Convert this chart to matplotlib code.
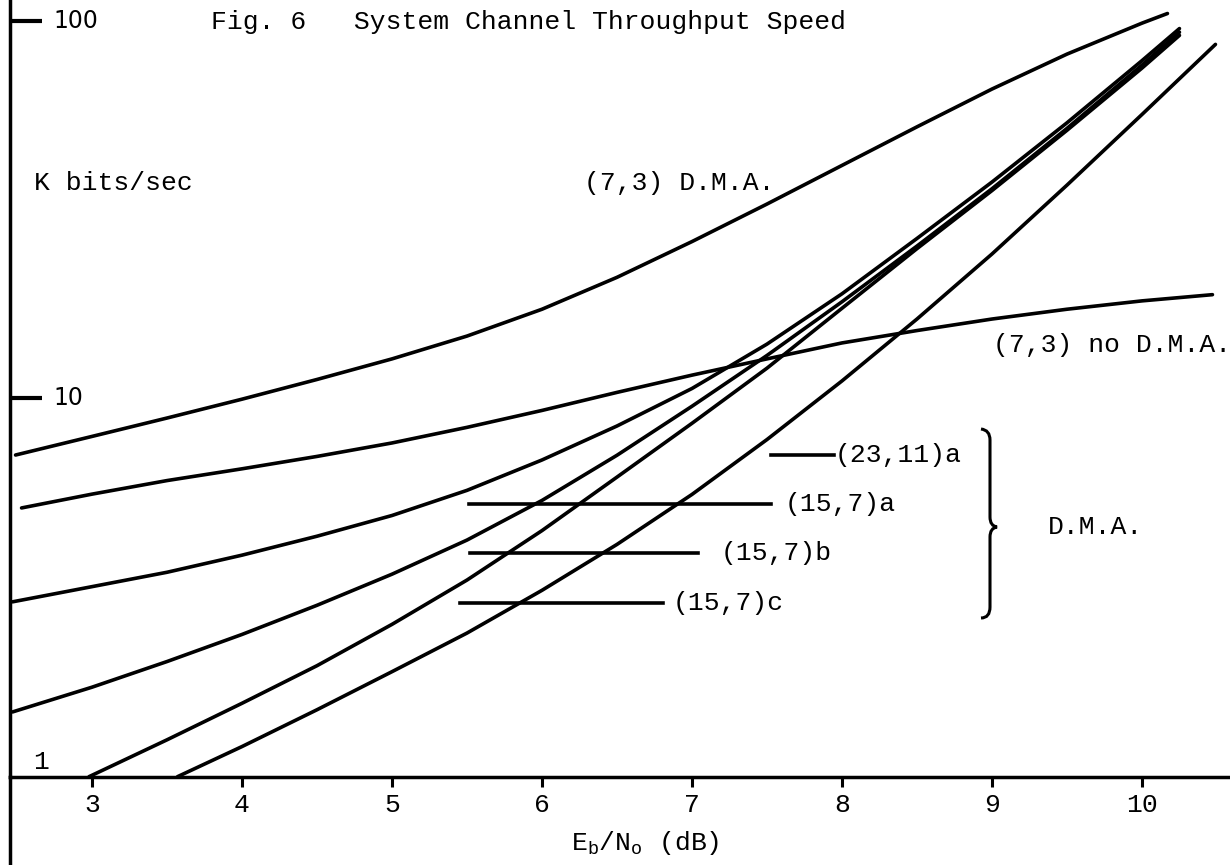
import matplotlib
matplotlib.use("Agg")
import matplotlib.pyplot as plt
from matplotlib.lines import Line2D
from matplotlib.path import Path
from matplotlib.patches import PathPatch
from matplotlib.ticker import NullLocator

plt.rcParams['font.family'] = ['Liberation Mono', 'DejaVu Sans']
plt.rcParams['mathtext.fontset'] = 'custom'
plt.rcParams['mathtext.rm'] = 'Liberation Mono'
plt.rcParams['mathtext.it'] = 'Liberation Mono'

# Eb/No (dB) against throughput (K bits/sec)
x_73_dma = [2.49, 3.0, 3.5, 4.0, 4.5, 5.0, 5.5, 6.0, 6.5, 7.0, 7.5, 8.0, 8.5, 9.0, 9.5, 10.0, 10.17]
y_73_dma = [7.06, 7.91, 8.85, 9.93, 11.2, 12.7, 14.6, 17.2, 20.9, 26.0, 32.7, 41.4, 52.4, 66.0, 81.7, 98.7, 104.7]

x_73_nodma = [2.53, 3.0, 3.5, 4.0, 4.5, 5.0, 5.5, 6.0, 6.5, 7.0, 7.5, 8.0, 8.5, 9.0, 9.5, 10.0, 10.47]
y_73_nodma = [5.11, 5.56, 6.04, 6.49, 7.00, 7.60, 8.36, 9.27, 10.35, 11.5, 12.7, 14.0, 15.1, 16.2, 17.2, 18.1, 18.8]

x_23_11a = [2.47, 3.0, 3.5, 4.0, 4.5, 5.0, 5.5, 6.0, 6.5, 7.0, 7.5, 8.0, 8.5, 9.0, 9.5, 10.0, 10.25]
y_23_11a = [2.88, 3.16, 3.45, 3.83, 4.30, 4.88, 5.69, 6.85, 8.43, 10.6, 13.9, 18.9, 26.5, 37.4, 53.7, 78.5, 95.5]

x_15_7a = [2.47, 3.0, 3.5, 4.0, 4.5, 5.0, 5.5, 6.0, 6.5, 7.0, 7.5, 8.0, 8.5, 9.0, 9.5, 10.0, 10.25]
y_15_7a = [1.47, 1.71, 2.00, 2.36, 2.82, 3.41, 4.20, 5.35, 7.05, 9.51, 12.97, 18.0, 25.3, 35.9, 51.9, 76.4, 93.4]

x_15_7b = [2.98, 3.5, 4.0, 4.5, 5.0, 5.5, 6.0, 6.5, 7.0, 7.5, 8.0, 8.5, 9.0, 9.5, 10.0, 10.25]
y_15_7b = [0.99, 1.24, 1.55, 1.95, 2.51, 3.29, 4.45, 6.17, 8.57, 12.0, 17.3, 24.9, 35.5, 51.3, 75.0, 91.6]

x_15_7c = [3.57, 4.0, 4.5, 5.0, 5.5, 6.0, 6.5, 7.0, 7.5, 8.0, 8.5, 9.0, 9.5, 10.0, 10.49]
y_15_7c = [0.99, 1.19, 1.49, 1.88, 2.38, 3.09, 4.09, 5.55, 7.76, 11.1, 16.2, 24.1, 36.7, 56.5, 86.7]

code_labels = ['(23,11)a', '(15,7)a', '(15,7)b', '(15,7)c']
x_ticks = [3, 4, 5, 6, 7, 8, 9, 10]
y_ticks = [10, 100]

W, H = 1230, 865


def fpx(x, y):
    # pixel position on the page -> figure fraction
    return x / W, 1 - y / H


fig = plt.figure(figsize=(12.3, 8.65), dpi=100)
ax = fig.add_axes([10 / W, 88 / H, 1220 / W, 777 / H])
ax.set_yscale('log')
ax.set_xlim(2.453, 10.587)
ax.set_ylim(0.988, 113.7)

lw = 2.6
for xs, ys in [(x_73_dma, y_73_dma), (x_73_nodma, y_73_nodma),
               (x_23_11a, y_23_11a), (x_15_7a, y_15_7a),
               (x_15_7b, y_15_7b), (x_15_7c, y_15_7c)]:
    ax.plot(xs, ys, color='black', lw=lw, solid_capstyle='round',
            solid_joinstyle='round', clip_on=False)

# leader lines for the code labels: (y, line start, line end, text x)
leaders = [(7.06, 7.53, 7.95, 7.95), (5.25, 5.51, 7.53, 7.62),
           (3.88, 5.52, 7.04, 7.19), (2.86, 5.45, 6.81, 6.87)]
for lab, (yl, x0, x1, xt) in zip(code_labels, leaders):
    ax.plot([x0, x1], [yl, yl], color='black', lw=lw)
    ax.text(xt, yl, lab, fontsize=19, va='center', ha='left')

ax.text(6.28, 37.2, '(7,3) D.M.A.', fontsize=19, va='center')
ax.text(9.01, 13.8, '(7,3) no D.M.A.', fontsize=19, va='center')
ax.text(9.37, 4.55, 'D.M.A.', fontsize=19, va='center')
ax.text(2.613, 37.2, 'K bits/sec', fontsize=19, va='center')
ax.text(2.607, 1.08, '1', fontsize=19, va='center')

for spine in ['top', 'right']:
    ax.spines[spine].set_visible(False)
ax.spines['left'].set_linewidth(2.5)
ax.spines['bottom'].set_linewidth(2.5)

ax.set_xticks(x_ticks)
ax.set_xticklabels([str(t) for t in x_ticks], fontsize=19)
ax.tick_params(axis='x', direction='out', length=7.5, width=2.2, pad=4)

ax.set_yticks(y_ticks)
ax.yaxis.set_minor_locator(NullLocator())
ax.set_yticklabels([])
ax.tick_params(axis='y', direction='in', length=23, width=3)
for t in y_ticks:
    ax.text(0.0352, t, str(t), transform=ax.get_yaxis_transform(),
            family='DejaVu Sans', fontsize=17, va='center', ha='left')

fig.text(645 / W, 1 - 843 / H, r'E$_\mathrm{b}$/N$_\mathrm{o}$ (dB)',
         fontsize=19, ha='center', va='center')
fig.text(211 / W, 1 - 22 / H, 'Fig. 6   System Channel Throughput Speed',
         fontsize=19, va='center')

# left axis line runs on below the x axis
fig.add_artist(Line2D([10 / W, 10 / W], [0, 88 / H], color='black', lw=2.5))

# brace grouping the D.M.A. codes
bv = [(981, 429), (990, 430), (990, 440), (990, 517), (990, 526), (997, 527),
      (990, 528), (990, 537), (990, 607), (990, 618), (981, 618)]
bc = [Path.MOVETO, Path.CURVE3, Path.CURVE3, Path.LINETO, Path.CURVE3, Path.CURVE3,
      Path.CURVE3, Path.CURVE3, Path.LINETO, Path.CURVE3, Path.CURVE3]
brace = Path([fpx(x, y) for x, y in bv], bc)
fig.add_artist(PathPatch(brace, fill=False, lw=2.2, color='black',
                         transform=fig.transFigure))

fig.savefig('out.png', dpi=100)
